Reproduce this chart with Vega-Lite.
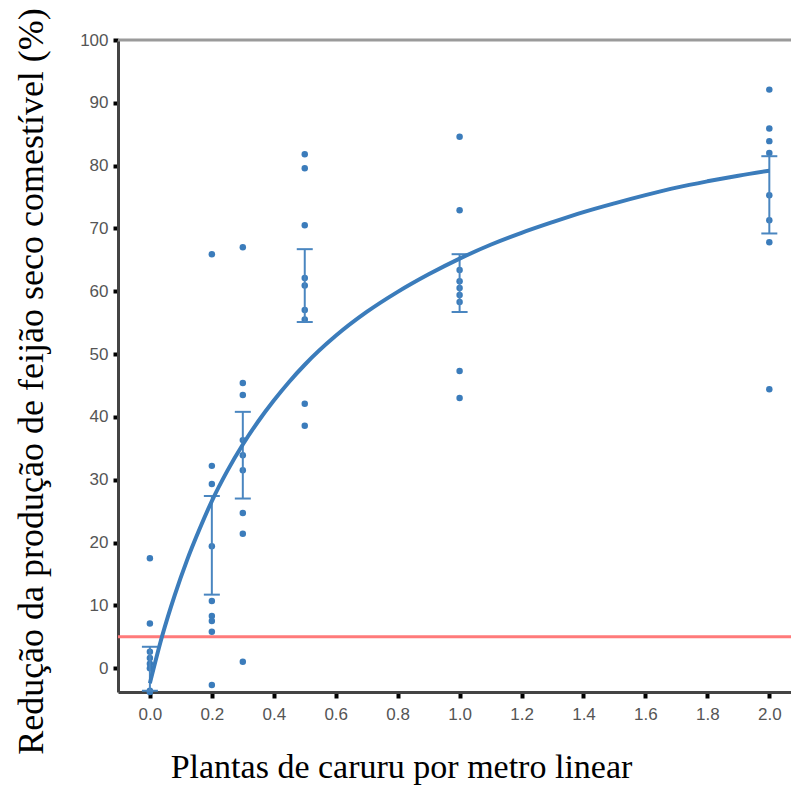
{
  "$schema": "https://vega.github.io/schema/vega-lite/v6.json",
  "width": 673,
  "height": 652,
  "autosize": {"type": "none"},
  "padding": {"left": 118, "top": 40, "right": 0, "bottom": 95},
  "background": "white",
  "config": {"view": {"stroke": null}, "axis": {"grid": false}},
  "datasets": {
    "pontos": [
      {"plantas": 0, "reducao": 17.5}, {"plantas": 0, "reducao": 7.1}, {"plantas": 0, "reducao": 2.6}, {"plantas": 0, "reducao": 1.6}, {"plantas": 0, "reducao": 0.7}, {"plantas": 0, "reducao": 0.0}, {"plantas": 0, "reducao": -3.6}, {"plantas": 0, "reducao": -3.8},
      {"plantas": 0.2, "reducao": 65.9}, {"plantas": 0.2, "reducao": 32.2}, {"plantas": 0.2, "reducao": 29.3}, {"plantas": 0.2, "reducao": 19.4}, {"plantas": 0.2, "reducao": 10.7}, {"plantas": 0.2, "reducao": 8.3}, {"plantas": 0.2, "reducao": 7.5}, {"plantas": 0.2, "reducao": 5.8}, {"plantas": 0.2, "reducao": -2.7},
      {"plantas": 0.3, "reducao": 67.0}, {"plantas": 0.3, "reducao": 45.4}, {"plantas": 0.3, "reducao": 43.5}, {"plantas": 0.3, "reducao": 36.3}, {"plantas": 0.3, "reducao": 33.9}, {"plantas": 0.3, "reducao": 31.5}, {"plantas": 0.3, "reducao": 24.7}, {"plantas": 0.3, "reducao": 21.4}, {"plantas": 0.3, "reducao": 1.0},
      {"plantas": 0.5, "reducao": 81.8}, {"plantas": 0.5, "reducao": 79.6}, {"plantas": 0.5, "reducao": 70.5}, {"plantas": 0.5, "reducao": 62.1}, {"plantas": 0.5, "reducao": 60.9}, {"plantas": 0.5, "reducao": 57.0}, {"plantas": 0.5, "reducao": 55.5}, {"plantas": 0.5, "reducao": 42.1}, {"plantas": 0.5, "reducao": 38.6},
      {"plantas": 1.0, "reducao": 84.6}, {"plantas": 1.0, "reducao": 72.9}, {"plantas": 1.0, "reducao": 63.4}, {"plantas": 1.0, "reducao": 61.6}, {"plantas": 1.0, "reducao": 60.5}, {"plantas": 1.0, "reducao": 59.4}, {"plantas": 1.0, "reducao": 58.3}, {"plantas": 1.0, "reducao": 47.3}, {"plantas": 1.0, "reducao": 43.0},
      {"plantas": 2.0, "reducao": 92.1}, {"plantas": 2.0, "reducao": 85.9}, {"plantas": 2.0, "reducao": 83.9}, {"plantas": 2.0, "reducao": 82.0}, {"plantas": 2.0, "reducao": 75.3}, {"plantas": 2.0, "reducao": 71.3}, {"plantas": 2.0, "reducao": 67.8}, {"plantas": 2.0, "reducao": 44.4}
    ],
    "barras": [
      {"plantas": 0, "lo": -3.6, "hi": 3.4},
      {"plantas": 0.2, "lo": 11.7, "hi": 27.4},
      {"plantas": 0.3, "lo": 27.0, "hi": 40.8},
      {"plantas": 0.5, "lo": 55.1, "hi": 66.7},
      {"plantas": 1.0, "lo": 56.7, "hi": 65.9},
      {"plantas": 2.0, "lo": 69.2, "hi": 81.5}
    ],
    "curva": [
      {"plantas": 0, "ajuste": -2.4}, {"plantas": 0.04, "ajuste": 5.2}, {"plantas": 0.08, "ajuste": 11.6}, {"plantas": 0.12, "ajuste": 17.2}, {"plantas": 0.16, "ajuste": 22.1}, {"plantas": 0.2, "ajuste": 26.6}, {"plantas": 0.25, "ajuste": 31.4}, {"plantas": 0.3, "ajuste": 35.6}, {"plantas": 0.35, "ajuste": 39.3}, {"plantas": 0.4, "ajuste": 42.6}, {"plantas": 0.45, "ajuste": 45.6}, {"plantas": 0.5, "ajuste": 48.3}, {"plantas": 0.6, "ajuste": 52.9}, {"plantas": 0.7, "ajuste": 56.7}, {"plantas": 0.8, "ajuste": 59.9}, {"plantas": 0.9, "ajuste": 62.7}, {"plantas": 1.0, "ajuste": 65.2}, {"plantas": 1.1, "ajuste": 67.4}, {"plantas": 1.2, "ajuste": 69.3}, {"plantas": 1.3, "ajuste": 71.0}, {"plantas": 1.4, "ajuste": 72.6}, {"plantas": 1.5, "ajuste": 74.0}, {"plantas": 1.6, "ajuste": 75.3}, {"plantas": 1.7, "ajuste": 76.5}, {"plantas": 1.8, "ajuste": 77.5}, {"plantas": 1.9, "ajuste": 78.4}, {"plantas": 2.0, "ajuste": 79.2}
    ],
    "linhas": [
      {"nivel": 5, "tipo": "limiar"},
      {"nivel": 100, "tipo": "topo"}
    ]
  },
  "layer": [
    {
      "data": {"name": "pontos"},
      "mark": {"type": "point", "filled": true, "opacity": 1, "size": 42, "color": "#3b7cbb"},
      "encoding": {
        "x": {
          "field": "plantas", "type": "quantitative",
          "title": "Plantas de caruru por metro linear",
          "scale": {"domain": [-0.103, 2.07], "nice": false, "zero": false},
          "axis": {
            "values": [0, 0.2, 0.4, 0.6, 0.8, 1.0, 1.2, 1.4, 1.6, 1.8, 2.0],
            "format": ".1f",
            "titleFont": "Liberation Serif", "titleFontSize": 34, "titleFontWeight": "normal", "titleColor": "#000",
            "titleX": 283, "titleY": 85, "titleBaseline": "alphabetic", "titleAlign": "center",
            "labelFont": "Liberation Sans", "labelFontSize": 17, "labelColor": "#555", "labelPadding": 8,
            "labelOverlap": false, "labelFlush": false,
            "domainColor": "#444", "domainWidth": 3,
            "tickColor": "#000", "tickWidth": 4, "tickSize": 6
          }
        },
        "y": {
          "field": "reducao", "type": "quantitative",
          "title": "Redução da produção de feijão seco comestível (%)",
          "scale": {"domain": [-3.8, 100], "nice": false, "zero": false},
          "axis": {
            "values": [0, 10, 20, 30, 40, 50, 60, 70, 80, 90, 100],
            "format": "d",
            "titleFont": "Liberation Serif", "titleFontSize": 36, "titleFontWeight": "normal", "titleColor": "#000",
            "titleX": -87, "titleY": 341, "titleBaseline": "middle", "titleAlign": "center", "titleAngle": 270,
            "labelFont": "Liberation Sans", "labelFontSize": 17, "labelColor": "#555", "labelPadding": 5,
            "labelOverlap": false, "labelFlush": false,
            "domainColor": "#444", "domainWidth": 3,
            "tickColor": "#000", "tickWidth": 4, "tickSize": 5
          }
        }
      }
    },
    {
      "data": {"name": "linhas"},
      "mark": {"type": "rule", "strokeWidth": 3},
      "encoding": {
        "y": {"field": "nivel", "type": "quantitative", "title": "Redução da produção de feijão seco comestível (%)", "scale": {"domain": [-3.8, 100], "nice": false, "zero": false}},
        "color": {"field": "tipo", "type": "nominal", "scale": {"domain": ["limiar", "topo"], "range": ["#ff7a7a", "#9a9a9a"]}, "legend": null}
      }
    },
    {
      "data": {"name": "barras"},
      "mark": {"type": "rule", "strokeWidth": 2, "color": "#4a86c0"},
      "encoding": {
        "x": {"field": "plantas", "type": "quantitative", "title": "Plantas de caruru por metro linear", "scale": {"domain": [-0.103, 2.07], "nice": false, "zero": false}},
        "y": {"field": "lo", "type": "quantitative", "title": "Redução da produção de feijão seco comestível (%)", "scale": {"domain": [-3.8, 100], "nice": false, "zero": false}},
        "y2": {"field": "hi"}
      }
    },
    {
      "data": {"name": "barras"},
      "mark": {"type": "tick", "orient": "horizontal", "size": 16, "thickness": 2, "color": "#4a86c0", "opacity": 1},
      "encoding": {
        "x": {"field": "plantas", "type": "quantitative", "title": "Plantas de caruru por metro linear", "scale": {"domain": [-0.103, 2.07], "nice": false, "zero": false}},
        "y": {"field": "lo", "type": "quantitative", "title": "Redução da produção de feijão seco comestível (%)", "scale": {"domain": [-3.8, 100], "nice": false, "zero": false}}
      }
    },
    {
      "data": {"name": "barras"},
      "mark": {"type": "tick", "orient": "horizontal", "size": 16, "thickness": 2, "color": "#4a86c0", "opacity": 1},
      "encoding": {
        "x": {"field": "plantas", "type": "quantitative", "title": "Plantas de caruru por metro linear", "scale": {"domain": [-0.103, 2.07], "nice": false, "zero": false}},
        "y": {"field": "hi", "type": "quantitative", "title": "Redução da produção de feijão seco comestível (%)", "scale": {"domain": [-3.8, 100], "nice": false, "zero": false}}
      }
    },
    {
      "data": {"name": "curva"},
      "mark": {"type": "line", "interpolate": "monotone", "strokeWidth": 4, "color": "#3b7cbb"},
      "encoding": {
        "x": {"field": "plantas", "type": "quantitative", "title": "Plantas de caruru por metro linear", "scale": {"domain": [-0.103, 2.07], "nice": false, "zero": false}},
        "y": {"field": "ajuste", "type": "quantitative", "title": "Redução da produção de feijão seco comestível (%)", "scale": {"domain": [-3.8, 100], "nice": false, "zero": false}}
      }
    }
  ]
}
